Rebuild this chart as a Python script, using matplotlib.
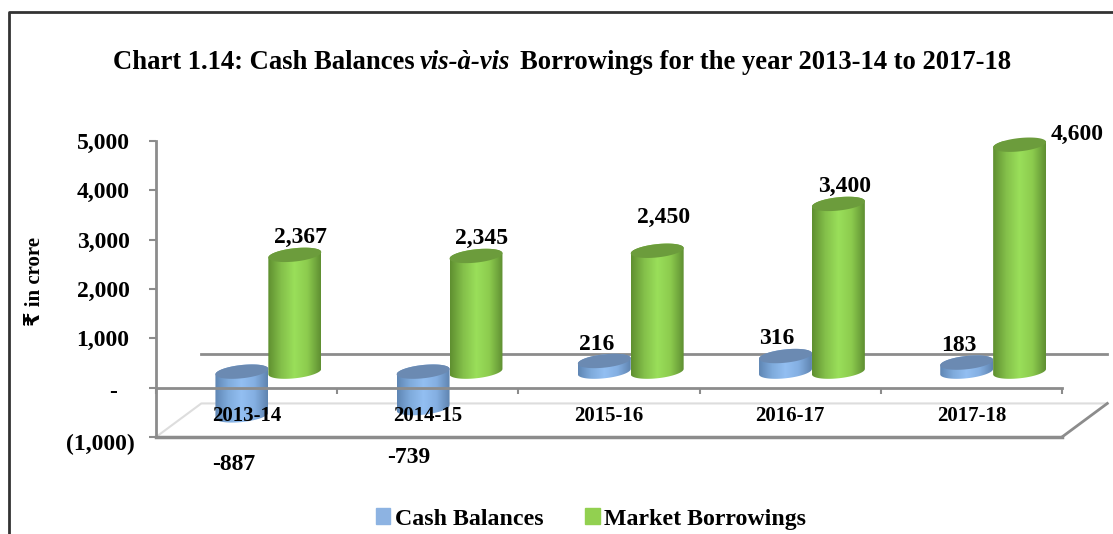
import numpy as np
import matplotlib
matplotlib.use("Agg")
import matplotlib.pyplot as plt
from matplotlib.colors import LinearSegmentedColormap
from matplotlib.lines import Line2D
from matplotlib.patches import Patch, Polygon
from matplotlib.transforms import ScaledTranslation

plt.rcParams['font.family'] = ['Liberation Serif', 'DejaVu Sans']
plt.rcParams['font.weight'] = 'bold'

years = ["2013-14", "2014-15", "2015-16", "2016-17", "2017-18"]
cash_balances = [-887, -739, 216, 316, 183]
market_borrowings = [2367, 2345, 2450, 3400, 4600]
cash_labels = ["-887", "-739", "216", "316", "183"]
borrowing_labels = ["2,367", "2,345", "2,450", "3,400", "4,600"]
y_ticks = [-1000, 0, 1000, 2000, 3000, 4000, 5000]
y_tick_labels = ["(1,000)", "-", "1,000", "2,000", "3,000", "4,000", "5,000"]

# label offsets from the bar top, pixels
cash_offsets = [(-8, -93), (-14, -86), (-8, 16), (-9, 18), (-8, 17)]
borrowing_offsets = [(6, 17), (6, 17), (6, 33), (6, 17), (58, 10)]

W, H = 1113, 534
AX_L, AX_R, AX_T, AX_B = 156, 1062, 141, 437
DEPTH_X, DEPTH_Y = 0.25, 680     # back wall shift in data units
BASE_X, BASE_Y = 0.12, 325       # where the columns stand
HALF_W = 0.146
ELL_H, ELL_TILT = 135, 55
GRAY = "#8c8c8c"

fig = plt.figure(figsize=(W / 100, H / 100), dpi=100)
ax = fig.add_axes([AX_L / W, 1 - AX_B / H, (AX_R - AX_L) / W, (AX_B - AX_T) / H])

green_cm = LinearSegmentedColormap.from_list("g", ["#5f8f30", "#84c04a", "#9adf5a", "#8ccb4e", "#5f8f32"])
blue_cm = LinearSegmentedColormap.from_list("b", ["#5f86b4", "#7fabdc", "#93bff2", "#84afe2", "#5f84b0"])


def ellipse(cx, cy, t):
    return cx + HALF_W * np.cos(t), cy + ELL_H * np.sin(t) + ELL_TILT * np.cos(t)


def column(cx, value, cmap, top_color, zorder):
    # negative columns hang from the base, so the cap stays on the upper end
    low = BASE_Y + min(value, 0)
    high = BASE_Y + max(value, 0)
    lx, ly = ellipse(cx, low, np.linspace(np.pi, 2 * np.pi, 40))
    ux, uy = ellipse(cx, high, np.linspace(0, np.pi, 40))
    body = Polygon(np.column_stack([np.r_[lx, ux], np.r_[ly, uy]]), transform=ax.transData,
                   fc="none", ec="none")
    ax.add_patch(body)
    grad = np.linspace(0, 1, 128).reshape(1, -1)
    im = ax.imshow(grad, cmap=cmap, aspect="auto", zorder=zorder,
                   extent=[cx - HALF_W, cx + HALF_W, low - 300, high + 300])
    im.set_clip_path(body)
    tx, ty = ellipse(cx, high, np.linspace(0, 2 * np.pi, 80))
    ax.fill(tx, ty, color=top_color, lw=0, zorder=zorder + 0.1, clip_on=False)


# floor and back wall line
ax.plot([0, DEPTH_X, 5 + DEPTH_X], [-1000, -1000 + DEPTH_Y, -1000 + DEPTH_Y], color="#dddddd", lw=1.5, clip_on=False, zorder=1)
ax.plot([5, 5 + DEPTH_X], [-1000, -1000 + DEPTH_Y], color=GRAY, lw=2, clip_on=False, zorder=1)
ax.plot([DEPTH_X, 5 + DEPTH_X], [DEPTH_Y, DEPTH_Y], color=GRAY, lw=2, clip_on=False, zorder=1)

positions = np.arange(len(years)) + 0.5
for i, pos in enumerate(positions):
    blue_x = pos + BASE_X - HALF_W
    green_x = pos + BASE_X + HALF_W
    column(blue_x, cash_balances[i], blue_cm, "#6b8ab2", 3)
    column(green_x, market_borrowings[i], green_cm, "#6c9c3c", 4)
    ax.annotate(cash_labels[i], (blue_x, BASE_Y + max(cash_balances[i], 0)), xytext=cash_offsets[i],
                textcoords="offset pixels", ha="center", va="center", fontsize=17, zorder=6)
    ax.annotate(borrowing_labels[i], (green_x, BASE_Y + market_borrowings[i]), xytext=borrowing_offsets[i],
                textcoords="offset pixels", ha="center", va="center", fontsize=17, zorder=6)
    ax.text(pos, -565, years[i], ha="center", va="center", fontsize=15, zorder=6)

ax.set_xlim(0, 5)
ax.set_ylim(-1000, 5000)

for side in ["top", "right"]:
    ax.spines[side].set_visible(False)
ax.spines["bottom"].set_position(("data", 0))
ax.spines["bottom"].set_color(GRAY)
ax.spines["bottom"].set_linewidth(2)
ax.spines["bottom"].set_zorder(5)
ax.spines["left"].set_color(GRAY)
ax.spines["left"].set_linewidth(2)
ax.plot([0, 5], [-1000, -1000], color=GRAY, lw=2.5, clip_on=False, zorder=2)

ax.set_xticks(np.arange(6))
ax.set_xticklabels([])
ax.tick_params(axis="x", direction="out", length=4, width=1.5, color=GRAY)
ax.set_yticks(y_ticks)
ax.set_yticklabels(y_tick_labels, fontsize=17, fontweight="bold")
ax.tick_params(axis="y", direction="out", length=5, width=1.5, color=GRAY, pad=14)
# the first two tick labels sit a little off the others
shifts = {0: (5, -5), 1: (-13, -2)}
for k, lab in enumerate(ax.get_yticklabels()):
    if k in shifts:
        dx, dy = shifts[k]
        lab.set_transform(lab.get_transform() + ScaledTranslation(dx / 100, dy / 100, fig.dpi_scale_trans))

ax.set_ylabel("₹ in crore", fontsize=15, fontweight="bold")
ax.yaxis.set_label_coords((45 - AX_L) / (AX_R - AX_L), (AX_B - 281) / (AX_B - AX_T))

# title in three pieces, only the middle one is italic
t1 = fig.text(113 / W, 1 - 69 / H, "Chart 1.14: Cash Balances ", ha="left", va="baseline", fontsize=19.2)
t2 = ax.annotate("vis-à-vis", xy=(1, 0), xycoords=t1, xytext=(-1, 0), textcoords="offset pixels",
                 ha="left", va="bottom", fontsize=19.2, style="italic", annotation_clip=False)
t3 = ax.annotate("Borrowings for the year 2013-14 to 2017-18", xy=(1, 0), xycoords=t2, xytext=(9, 0),
                 textcoords="offset pixels", ha="left", va="bottom", fontsize=19.2, annotation_clip=False)

handles = [Patch(color="#8db3e2", label="Cash Balances"), Patch(color="#92d050", label="Market Borrowings")]
fig.legend(handles=handles, loc="center", bbox_to_anchor=(591 / W, 1 - 519 / H), ncol=2, frameon=False,
           fontsize=17.2, handlelength=0.6, handleheight=0.6, handletextpad=0.2, columnspacing=1.75,
           borderpad=0)

# frame of the page
fig.add_artist(Line2D([9 / W, 9 / W, 1], [0, 1 - 12 / H, 1 - 12 / H], color="#333333", lw=2))

fig.savefig("out.png", dpi=100)
